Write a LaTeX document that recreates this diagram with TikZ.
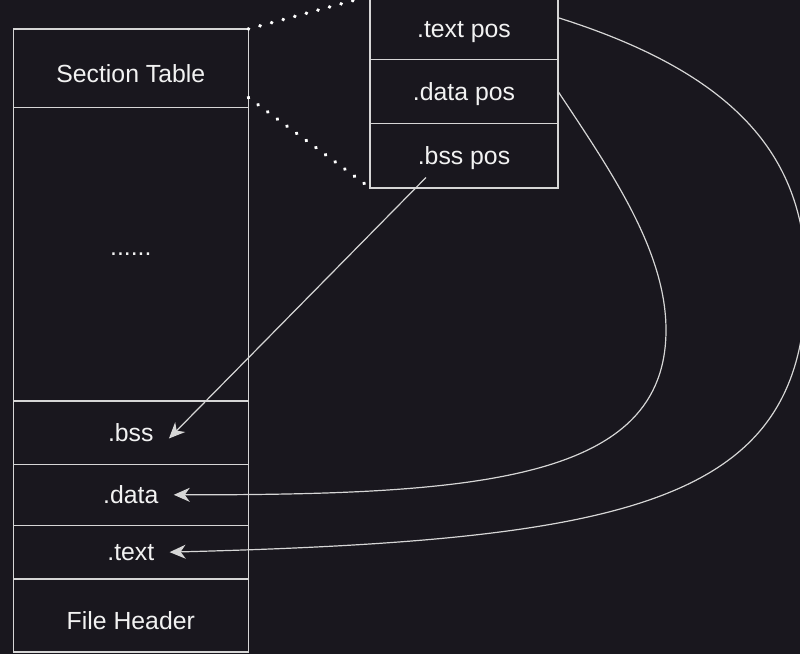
\documentclass[tikz,border=0pt]{standalone}
\usepackage{fontspec}
\setmainfont{Liberation Sans}
\usetikzlibrary{arrows.meta,positioning,calc}
\definecolor{cBack}{RGB}{25,23,30}
\definecolor{cLine}{RGB}{214,214,214}
\definecolor{cText}{RGB}{242,242,242}

\begin{document}
\begin{tikzpicture}[
  x=0.5pt,y=-0.5pt,
  cell/.style={draw=cLine,line width=0.8pt,minimum width=117.5pt,outer sep=0pt,inner sep=0pt,
               text=cText,font=\fontsize{12.4}{14}\selectfont,text depth=0pt},
  poscell/.style={cell,minimum width=94pt},
  tag/.style={text=cText,font=\fontsize{12.4}{14}\selectfont,inner xsep=7.5pt,inner ysep=0pt},
  flow/.style={-{Stealth[length=8pt,width=7pt,inset=2.5pt]},cLine,line width=0.6pt},
  link/.style={white,line width=1.8pt,line cap=round,dash pattern=on 0.2pt off 5.8pt},
]
\useasboundingbox (0,0) rectangle (800,654);
\fill[cBack] (0,0) rectangle (800,654);
\clip (0,0) rectangle (800,654);

\node[cell,minimum height=39.25pt,text height=14pt] (sect) at (130.8,68.25) {Section Table};
\node[cell,minimum height=146.6pt,below=0pt of sect]     (rest)     {......};
\node[cell,minimum height=31.8pt,below=0pt of rest]      (bsscell)  {};
\node[cell,minimum height=30.5pt,below=0pt of bsscell]   (datcell)  {};
\node[cell,minimum height=26.85pt,below=0pt of datcell]  (txtcell)  {};
\node[cell,minimum height=36.35pt,text height=14pt,below=0pt of txtcell] (hdr) {File Header};

\node[tag] (bss) at (bsscell) {.bss};
\node[tag] (dat) at (datcell) {.data};
\node[tag] (txt) at (txtcell) {.text};

\node[poscell,minimum height=31.65pt,text height=10pt] (tpos) at (464,27.65) {.text pos};
\node[poscell,minimum height=32pt,below=0pt of tpos]   (dpos) {.data pos};
\node[poscell,minimum height=32.2pt,below=0pt of dpos] (bpos) {.bss pos};

\draw[link] (sect.north east) -- (tpos.north west);
\draw[link] ([yshift=5pt]sect.south east) -- (bpos.south west);

\coordinate (dturn) at (666,330);
\coordinate (tturn) at (806,280);
\draw[flow] ($(bpos.center)+(-19pt,-11pt)$) -- ([yshift=-3pt]bss.east);
\draw[flow] (dpos.east) .. controls (610,170) and (666,250) .. (dturn)
            .. controls (666,480) and (480,495) .. (dat.east);
\draw[flow] ([yshift=5pt]tpos.east) .. controls (740,75) and (806,160) .. (tturn)
            .. controls (806,500) and (640,540) .. (txt.east);
\end{tikzpicture}
\end{document}
